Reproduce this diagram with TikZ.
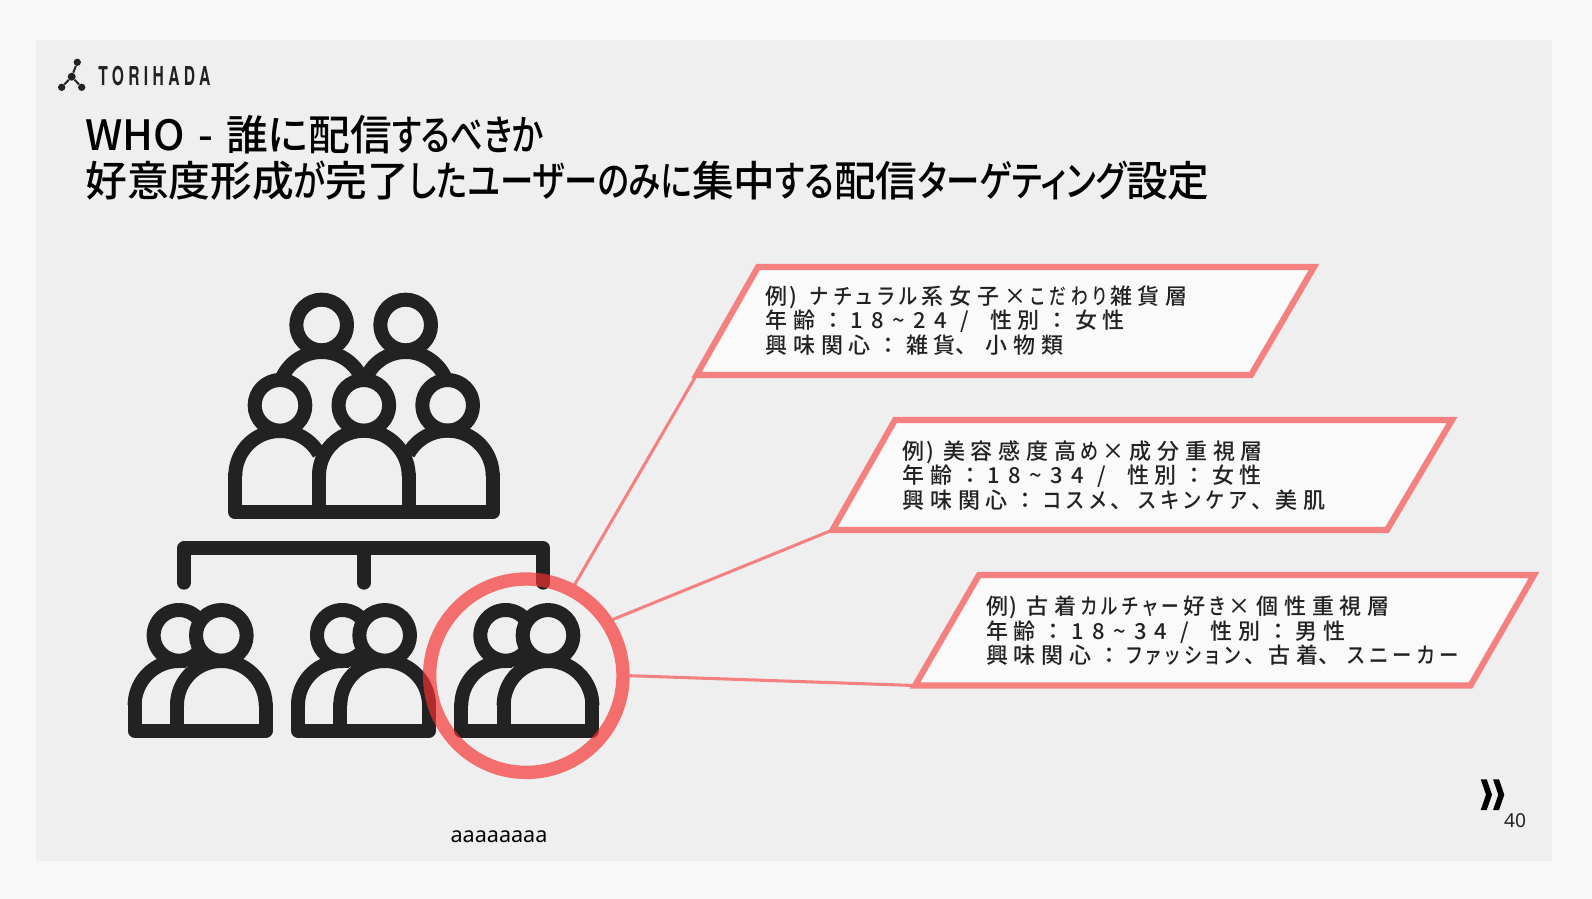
\documentclass[tikz,border=0pt]{standalone}
\usepackage{fontspec}
\usepackage{graphicx}
\newfontfamily\jptitle[RawFeature=+palt]{Noto Sans CJK JP Medium}
\newfontfamily\jpbody[RawFeature=+palt,LetterSpace=26]{Noto Sans CJK JP Medium}
\newfontfamily\jpfull[LetterSpace=26]{Noto Sans CJK JP Medium}
\newfontfamily\jpdigit[RawFeature=+palt,LetterSpace=38]{Noto Sans CJK JP Medium}
\newfontfamily\logofont[LetterSpace=28]{TeX Gyre Heros}
\newfontfamily\smallfont{Noto Sans}
\newcommand{\hira}[1]{\scalebox{0.78}[1]{#1}}
\newcommand{\kata}[1]{\scalebox{0.8}[1]{#1}}
\newcommand{\bkata}[2][0.88]{\hspace{3pt}\scalebox{#1}[1]{#2}\hspace{3pt}}
\newcommand{\ckata}[2][0.88]{\scalebox{#1}[1]{#2}\hspace{3pt}}
\newcommand{\bhira}[2][0.82]{\hspace{3pt}\scalebox{#1}[1]{#2}\hspace{3pt}}
\newcommand{\colonj}{\hspace{5pt}{\jpfull ：}\hspace{5pt}}
\newcommand{\tenj}{{\jpfull 、}\hspace{2pt}}
\newcommand{\nums}[1]{{\jpdigit #1}}
\newcommand{\paren}{\hspace{1pt}\nums{)}\hspace{7pt}}
\newcommand{\slashgap}{\hspace{6pt}}
\definecolor{pagebg}{HTML}{F8F8F8}
\definecolor{panelbg}{HTML}{EFEFEF}
\definecolor{ink}{HTML}{232222}
\definecolor{frame}{HTML}{F58080}
\definecolor{ringred}{RGB}{245,50,46}
\definecolor{boxfill}{HTML}{FAFAFA}
\newcommand{\iconarc}[5]{\draw[iconline] plot[domain=#4:#5,samples=60,variable=\t] ({#1+#3*cos(\t)},{#2+#3*sin(\t)});}
\tikzset{
  iconline/.style={draw=ink,line width=10.5pt,line join=round},
  slant/.style={draw=frame,line width=4.6pt,fill=boxfill,line join=miter},
  lead/.style={draw=frame,line width=2.3pt},
  titletext/.style={anchor=west,inner sep=0pt,text=black,font=\jptitle\fontsize{31.3pt}{34pt}\selectfont},
  boxtext/.style={anchor=west,align=left,inner sep=0pt,text=ink,font=\jpbody\fontsize{16.5pt}{18.3pt}\selectfont},
}
\begin{document}
\begin{tikzpicture}[x=0.75pt,y=-0.75pt]
\useasboundingbox (0,0) rectangle (1592,899);
\fill[pagebg] (0,0) rectangle (1592,899);
\fill[panelbg] (36,40) rectangle (1552,861);
% logo
\coordinate (lc) at (71.7,76.7);
\node[circle,fill=ink,inner sep=0pt,minimum size=5.5pt] (lt) at (77.3,62.3) {};
\node[circle,fill=ink,inner sep=0pt,minimum size=5.5pt] (ll) at (61.7,87.3) {};
\node[circle,fill=ink,inner sep=0pt,minimum size=5.5pt] (lr) at (81.7,87.3) {};
\node[circle,fill=ink,inner sep=0pt,minimum size=6pt] (lm) at (lc) {};
\draw[ink,line width=1.5pt] (lm) -- (lt) (lm) -- (ll) (lm) -- (lr);
\node[anchor=west,inner sep=0pt,text=ink,font=\logofont\bfseries\fontsize{19.5pt}{20pt}\selectfont] (logo) at (98,76) {\scalebox{0.6}[1]{TORIHADA}};
% title
\node[titletext] (t1) at (85,135) {WHO\hspace{10pt}-\hspace{10pt}誰に配信\hira{するべきか}};
\node[titletext] (t2) at (85,181) {好意度形成\hira{が}完了\hira{した}\kata{ユーザー}\hira{のみに}集中\hira{する}配信\kata{ターゲティング}設定};
% icons
\begin{scope}[shift={(120,280)},x=0.25pt,y=-0.25pt]
  \foreach \c in {605,857}{
    \draw[iconline] (\c,135) circle[radius=76];
    \iconarc{\c}{346}{130}{-155}{-25}
  }
  \foreach \c in {480,731.5,983}{
    \draw[iconline] (\c,376) circle[radius=76];
  }
  \iconarc{480}{587}{134}{-180}{-29}
  \iconarc{983}{587}{135}{0}{-151}
  \draw[iconline] (346,580) -- (346,697) -- (1118,697) -- (1118,580);
  \draw[iconline] (597,697) -- (597,580);
  \iconarc{731.5}{587}{134.5}{-180}{0}
  \draw[iconline] (866,580) -- (866,697);
  \draw[iconline,line cap=round] (192,908) -- (192,805) -- (1270,805) -- (1270,908);
  \draw[iconline,line cap=round] (731.5,805) -- (731.5,908);
  \foreach \dx in {0,490,980}{
    \draw[iconline] (304+\dx,1066) circle[radius=76];
    \iconarc{177+\dx}{1066}{76}{42}{318}
    \iconarc{177+\dx}{1276}{133}{-180}{-88}
    \draw[iconline] (175+\dx,1143) -- (197+\dx,1143);
    \draw[iconline] (171+\dx,1352) -- (171+\dx,1270);
    \iconarc{304+\dx}{1276}{133}{-180}{0}
    \draw[iconline] (44+\dx,1270) -- (44+\dx,1352) -- (437+\dx,1352) -- (437+\dx,1270);
  }
\end{scope}
% panels
\coordinate (a1) at (758,267); \coordinate (b1) at (1314,267); \coordinate (c1) at (1251,375); \coordinate (d1) at (696.5,375);
\coordinate (a2) at (895,420); \coordinate (b2) at (1452,420); \coordinate (c2) at (1387,530); \coordinate (d2) at (832.5,530);
\coordinate (a3) at (979,575); \coordinate (b3) at (1534,575); \coordinate (c3) at (1470.5,685.5); \coordinate (d3) at (915,685.5);
\node[circle,inner sep=0pt,outer sep=0pt,minimum size=155pt] (ringshape) at (526.3,675.7) {};
\draw[lead] (ringshape.62) -- (d1);
\draw[lead] (ringshape.33) -- (d2);
\draw[lead] (ringshape.0) -- (d3);
\draw[slant] (a1) -- (b1) -- (c1) -- (d1) -- cycle;
\draw[slant] (a2) -- (b2) -- (c2) -- (d2) -- cycle;
\draw[slant] (a3) -- (b3) -- (c3) -- (d3) -- cycle;
\draw[draw=ringred,draw opacity=0.68,line width=10pt] (526.3,675.7) circle[radius=96.7];
% texts
\node[boxtext] (x1) at (765.5,320.5) {例\paren\bkata{ナチュラル}系女子×\bhira[0.76]{こだわり}雑貨層\\年齢\colonj\nums{18\textasciitilde24 / }\slashgap 性別\colonj 女性\\興味関心\colonj 雑貨\tenj\hspace{4pt}小物類};
\node[boxtext] (x2) at (902.5,475.5) {例\paren 美容感度高\bhira{め}×成分重視層\\年齢\colonj\nums{18\textasciitilde34 / }\slashgap 性別\colonj 女性\\興味関心\colonj\ckata{コスメ}\tenj\bkata{スキンケア}\tenj 美肌};
\node[boxtext] (x3) at (986,631) {例\paren 古着\bkata[0.8]{カルチャー}好\bhira{き}×個性重視層\\年齢\colonj\nums{18\textasciitilde34 / }\slashgap 性別\colonj 男性\\興味関心\colonj\ckata[0.82]{ファッション}\tenj 古着\tenj\bkata{スニーカー}};
% footer
\fill[black] (1480.7,779.3) -- (1486.7,779.3) -- (1492,794.7) -- (1486.7,810) -- (1480.7,810) -- (1486,794.7) -- cycle;
\fill[black] (1493,779.3) -- (1499,779.3) -- (1504.3,794.7) -- (1499,810) -- (1493,810) -- (1498.3,794.7) -- cycle;
\node[anchor=center,inner sep=0pt,text=ink,font=\smallfont\fontsize{14.4pt}{16pt}\selectfont] (pg) at (1515,821) {40};
\node[anchor=center,inner sep=0pt,text=black,font=\smallfont\fontsize{16.2pt}{18pt}\selectfont] (foot) at (499,836.5) {aaaaaaaa};
\end{tikzpicture}
\end{document}
